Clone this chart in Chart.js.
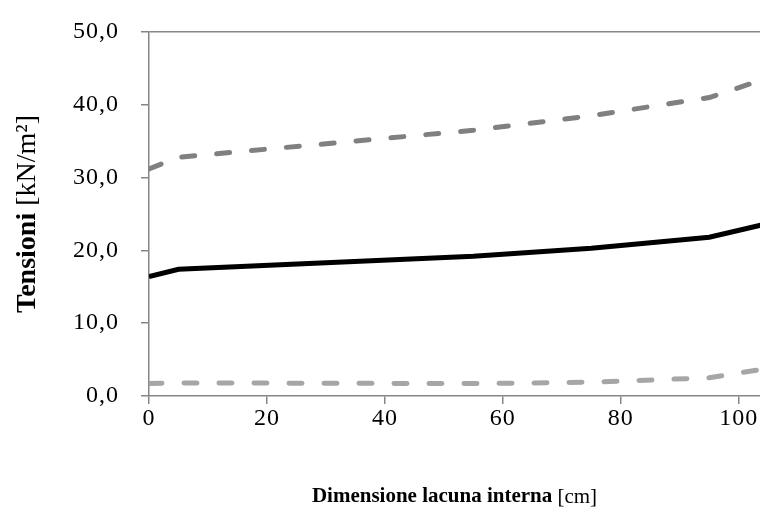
<!DOCTYPE html>
<html>
<head>
<meta charset="utf-8">
<script src="https://cdn.jsdelivr.net/npm/chart.js@4"></script>
<style>
  html, body { margin: 0; padding: 0; background: #fff; }
  #wrap { width: 760px; height: 524px; }
</style>
</head>
<body>
<div id="wrap"><canvas id="tensionChart" width="760" height="524"></canvas></div>
<script>
// Dimensione lacuna interna [cm]
const lacuna = [0, 5, 55, 75, 95, 105];
// Tensioni [kN/m2] for each curve
const tensioneMax = [31.2, 32.8, 36.5, 38.5, 41.0, 43.7];
const tensioneMedia = [16.4, 17.4, 19.2, 20.3, 21.8, 23.7];
const tensioneMin = [1.7, 1.8, 1.7, 1.9, 2.5, 3.8];
const yTicks = [0, 10, 20, 30, 40, 50];
const xTicks = [0, 20, 40, 60, 80, 100];

const axisGrey = '#868686';
const serif = '"Liberation Serif", "DejaVu Serif", serif';

function toPoints(ys) {
    return lacuna.map((x, i) => ({ x: x, y: ys[i] }));
}

// slightly wider spacing for the tick numbers
const tickSpacing = {
    id: 'tickSpacing',
    beforeDraw(chart) { chart.ctx.letterSpacing = '1px'; },
    afterDraw(chart) { chart.ctx.letterSpacing = '0px'; }
};

// Axis titles with a bold word followed by a regular unit
const axisTitles = {
    id: 'axisTitles',
    afterDraw(chart) {
        const c = chart.ctx;
        const area = chart.chartArea;
        const drawMixed = (bold, normal, cx, cy, rotate, size) => {
            c.save();
            c.translate(cx, cy);
            if (rotate) c.rotate(-Math.PI / 2);
            c.textBaseline = 'middle';
            c.textAlign = 'left';
            c.fillStyle = '#000';
            c.font = 'bold ' + size + 'px ' + serif;
            const wb = c.measureText(bold).width;
            c.font = size + 'px ' + serif;
            const wn = c.measureText(normal).width;
            const x = -(wb + wn) / 2;
            c.font = 'bold ' + size + 'px ' + serif;
            c.fillText(bold, x, 0);
            c.font = size + 'px ' + serif;
            c.fillText(normal, x + wb, 0);
            c.restore();
        };
        c.letterSpacing = '0px';
        drawMixed('Dimensione lacuna interna ', '[cm]', (area.left + area.right) / 2, 497, false, 21);
        drawMixed('Tensioni ', '[kN/m²]', 28, (area.top + area.bottom) / 2, true, 28);
    }
};

const dashed = [13, 22];

new Chart(document.getElementById('tensionChart'), {
    type: 'line',
    data: {
        datasets: [{
            label: 'max',
            data: toPoints(tensioneMax),
            borderColor: '#808080',
            borderWidth: 5,
            borderDash: dashed,
            borderCapStyle: 'round',
            pointRadius: 0,
            fill: false
        }, {
            label: 'media',
            data: toPoints(tensioneMedia),
            borderColor: '#000000',
            borderWidth: 5,
            pointRadius: 0,
            fill: false
        }, {
            label: 'min',
            data: toPoints(tensioneMin),
            borderColor: '#a6a6a6',
            borderWidth: 5,
            borderDash: dashed,
            borderCapStyle: 'round',
            pointRadius: 0,
            fill: false
        }]
    },
    options: {
        responsive: false,
        animation: false,
        layout: { padding: { top: 32, right: 0, left: 0, bottom: 0 } },
        plugins: {
            legend: { display: false },
            tooltip: { enabled: false }
        },
        scales: {
            x: {
                type: 'linear',
                min: 0,
                max: 103.6,
                afterBuildTicks: (scale) => {
                    scale.ticks = xTicks.map(v => ({ value: v }));
                },
                afterFit: (scale) => {
                    scale.height = 128;
                    scale.paddingLeft = 0;
                    scale.paddingRight = 0;
                },
                border: { display: true, color: axisGrey, width: 1.5 },
                grid: {
                    drawOnChartArea: false,
                    drawTicks: true,
                    tickLength: 8,
                    tickColor: axisGrey,
                    lineWidth: 1.5
                },
                ticks: {
                    color: '#000',
                    padding: 0,
                    maxRotation: 0,
                    font: { family: serif, size: 24 }
                }
            },
            y: {
                min: 0,
                max: 50,
                afterBuildTicks: (scale) => {
                    scale.ticks = yTicks.map(v => ({ value: v }));
                },
                afterFit: (scale) => {
                    scale.width = 149;
                    scale.paddingTop = 0;
                    scale.paddingBottom = 0;
                },
                border: { display: true, color: axisGrey, width: 1.5 },
                grid: {
                    drawTicks: true,
                    tickLength: 8,
                    tickColor: axisGrey,
                    lineWidth: 1.5,
                    color: (ctx) => (ctx.tick && ctx.tick.value === 50) ? axisGrey : 'rgba(0,0,0,0)'
                },
                ticks: {
                    color: '#000',
                    padding: 22,
                    font: { family: serif, size: 24 },
                    callback: (v) => v.toFixed(1).replace('.', ',')
                }
            }
        }
    },
    plugins: [tickSpacing, axisTitles]
});
</script>
</body>
</html>
